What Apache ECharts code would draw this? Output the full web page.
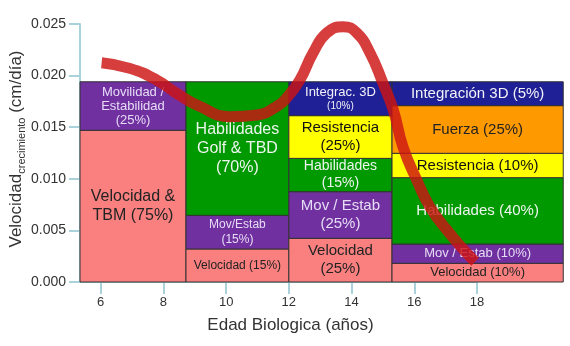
<!DOCTYPE html>
<html>
<head>
<meta charset="utf-8">
<script src="https://cdn.jsdelivr.net/npm/echarts@6/dist/echarts.min.js"></script>
<style>html,body{margin:0;padding:0;background:#fff}#c{width:570px;height:346px}</style>
</head>
<body>
<div id="c"></div>
<script>
// ---- data ----
const xTicks = [6, 8, 10, 12, 14, 16, 18];
const yTicks = [0, 0.005, 0.010, 0.015, 0.020, 0.025];
const columnEdges = [5.34, 8.72, 12.0, 15.29, 20.75];
// boundaries from bottom to top for each column
const col1Bounds = [0, 0.0147, 0.0194];
const col2Bounds = [0, 0.0032, 0.00646, 0.0194];
const col3Bounds = [0, 0.00423, 0.00875, 0.01198, 0.01612, 0.0194];
const col4Bounds = [0, 0.00181, 0.00368, 0.01011, 0.01247, 0.01709, 0.0194];
const col1Kinds = ['vel', 'mov'];
const col2Kinds = ['vel', 'mov', 'hab'];
const col3Kinds = ['vel', 'mov', 'hab', 'res', 'int'];
const col4Kinds = ['vel', 'mov', 'hab', 'res', 'fue', 'int'];
const col1Labels = ['Velocidad &\nTBM (75%)', 'Movilidad /\nEstabilidad\n(25%)'];
const col2Labels = ['Velocidad (15%)', 'Mov/Estab\n(15%)', 'Habilidades\nGolf & TBD\n(70%)'];
const col3Labels = ['Velocidad\n(25%)', 'Mov / Estab\n(25%)', 'Habilidades\n(15%)', 'Resistencia\n(25%)', 'Integrac. 3D\n{s|(10%)}'];
const col4Labels = ['Velocidad (10%)', 'Mov / Estab (10%)', 'Habilidades (40%)', 'Resistencia (10%)', 'Fuerza (25%)', 'Integración 3D (5%)'];
const curveAge = [6.03, 6.93, 7.79, 8.42, 9.17, 10.12, 10.98, 11.61, 11.93, 12.35, 12.77, 13.21, 13.73, 14.17, 14.59, 15.0, 15.33, 15.64, 16.08, 16.5, 17.04, 17.67, 17.94];
const curveVal = [0.02125, 0.0207, 0.01957, 0.01829, 0.0170, 0.01602, 0.01618, 0.0170, 0.01783, 0.01957, 0.02219, 0.02413, 0.02474, 0.02413, 0.02219, 0.01928, 0.01667, 0.01308, 0.00988, 0.00727, 0.00504, 0.00281, 0.00197];

// ---- styles ----
const kindFill = {vel:'#fa8080', mov:'#7030a0', hab:'#009900', res:'#ffff00', fue:'#ff9900', int:'#1f1f96'};
const kindText = {vel:'#222', mov:'#e6dcf5', hab:'#eef5ee', res:'#111', fue:'#222', int:'#f2f2f8'};
const col1Font = [[16,19],[13,14]];
const col2Font = [[12,14],[12,15],[16,19]];
const col3Font = [[15,18],[15,18],[14,17],[15,18],[13,15]];
const col4Font = [[13,15],[13,15],[15,18],[15,18],[15,18],[15,18]];

const allBounds = [col1Bounds, col2Bounds, col3Bounds, col4Bounds];
const allKinds = [col1Kinds, col2Kinds, col3Kinds, col4Kinds];
const allLabels = [col1Labels, col2Labels, col3Labels, col4Labels];
const allFonts = [col1Font, col2Font, col3Font, col4Font];

const rects = [];
const rectMeta = [];
allBounds.forEach((b, ci) => {
  for (let i = 0; i < b.length - 1; i++) {
    rects.push([columnEdges[ci], columnEdges[ci + 1], b[i], b[i + 1]]);
    rectMeta.push({kind: allKinds[ci][i], label: allLabels[ci][i], font: allFonts[ci][i]});
  }
});
const curve = curveAge.map((a, i) => [a, curveVal[i]]);

const FF = '"Liberation Sans", Arial, sans-serif';
const axisBlue = '#a9d2da';

const chart = echarts.init(document.getElementById('c'), null, {renderer: 'canvas'});
chart.setOption({
  animation: false,
  grid: {left: 80, right: 93, top: 24, bottom: 64, outerBoundsMode: 'none', containLabel: false},
  xAxis: {
    type: 'value', min: 5.34, max: 18,
    name: 'Edad Biologica (años)', nameLocation: 'middle', nameGap: 35, nameMoveOverlap: false,
    nameTextStyle: {fontFamily: FF, fontSize: 17, color: '#333', padding: [0, 0, 0, 24]},
    axisLine: {show: true, lineStyle: {color: axisBlue, width: 2}},
    axisTick: {show: true, length: 12, lineStyle: {color: axisBlue, width: 2}, customValues: xTicks},
    axisLabel: {customValues: xTicks, margin: 14, fontFamily: FF, fontSize: 13, color: '#333'},
    splitLine: {show: false}
  },
  yAxis: {
    type: 'value', min: 0, max: 0.025, interval: 0.005,
    name: '{a|Velocidad}{b|crecimiento}{a| (cm/día)}', nameLocation: 'middle', nameGap: 53, nameRotate: 90,
    nameMoveOverlap: false,
    nameTextStyle: {
      color: '#333',
      padding: [0, 0, 0, 8],
      rich: {
        a: {fontFamily: FF, fontSize: 17, color: '#333', lineHeight: 22, verticalAlign: 'middle'},
        b: {fontFamily: FF, fontSize: 11, color: '#333', lineHeight: 22, verticalAlign: 'bottom', padding: [8, 0, 0, 0]}
      }
    },
    axisLine: {show: true, lineStyle: {color: axisBlue, width: 2}},
    axisTick: {show: true, length: 11, lineStyle: {color: axisBlue, width: 2}},
    axisLabel: {margin: 14, fontFamily: FF, fontSize: 14, color: '#333', formatter: v => v.toFixed(3)},
    splitLine: {show: false}
  },
  series: [
    {
      type: 'custom', clip: false, z: 2,
      data: rects,
      encode: {x: [0, 1], y: [2, 3]},
      renderItem: function (params, api) {
        const p0 = api.coord([api.value(0), api.value(3)]);
        const p1 = api.coord([api.value(1), api.value(2)]);
        const m = rectMeta[params.dataIndex];
        return {
          type: 'rect',
          shape: {x: p0[0], y: p0[1], width: p1[0] - p0[0], height: p1[1] - p0[1]},
          style: {fill: kindFill[m.kind], stroke: '#333', lineWidth: 1},
          textContent: {
            style: {
              text: m.label, fill: kindText[m.kind], fontFamily: FF,
              fontSize: m.font[0], lineHeight: m.font[1], align: 'center', verticalAlign: 'middle',
              rich: {s: {fontSize: 10, lineHeight: 13, fill: kindText[m.kind], fontFamily: FF}}
            }
          },
          textConfig: {position: 'inside'}
        };
      }
    },
    {
      type: 'line', z: 5, data: curve, smooth: 0.5, showSymbol: false, symbol: 'none',
      lineStyle: {color: 'rgba(205,20,20,0.82)', width: 11, cap: 'butt'}
    }
  ]
});
</script>
</body>
</html>
